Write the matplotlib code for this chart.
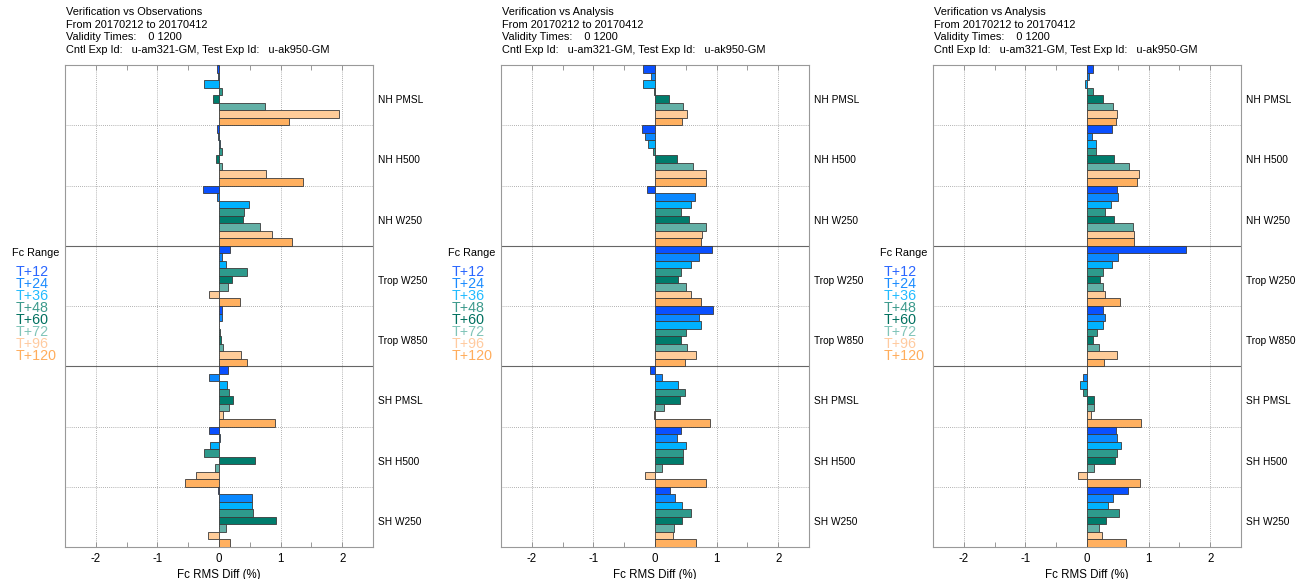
import matplotlib
matplotlib.use('Agg')
import matplotlib.pyplot as plt
from matplotlib.ticker import MultipleLocator

plt.rcParams['font.family'] = ['Liberation Sans', 'DejaVu Sans']

# ---------------- data ----------------
categories = ["NH PMSL", "NH H500", "NH W250", "Trop W250", "Trop W850",
              "SH PMSL", "SH H500", "SH W250"]
fc_ranges = ["T+12", "T+24", "T+36", "T+48", "T+60", "T+72", "T+96", "T+120"]
bar_colors = ["#0a50ff", "#0a88ff", "#00b2ff", "#2e9a8c", "#007c6c",
              "#62b0a6", "#ffcc99", "#ffb060"]
legend_colors = ["#2a66ff", "#1a8cff", "#22bbff", "#3c9a8c", "#00705f",
                 "#80c4b8", "#ffcba0", "#ffad5c"]

panel_titles = ["Verification vs Observations", "Verification vs Analysis",
                "Verification vs Analysis"]
date_line = "From 20170212 to 20170412"
validity_line = "Validity Times:    0 1200"
exp_line = "Cntl Exp Id:   u-am321-GM, Test Exp Id:   u-ak950-GM"
xlabel = "Fc RMS Diff (%)"
legend_title = "Fc Range"

# rows: categories, columns: fc ranges (T+12 ... T+120)
obs_diff = [
    [-0.03, -0.01, -0.24, 0.05, -0.10, 0.75, 1.94, 1.13],
    [-0.04, -0.01, 0.02, 0.05, -0.05, 0.05, 0.76, 1.36],
    [-0.26, -0.03, 0.48, 0.41, 0.39, 0.66, 0.86, 1.18],
    [0.18, 0.05, 0.11, 0.45, 0.21, 0.15, -0.16, 0.34],
    [0.05, 0.05, 0.005, 0.01, 0.04, 0.07, 0.36, 0.46],
    [0.14, -0.17, 0.13, 0.17, 0.23, 0.17, 0.06, 0.91],
    [-0.16, 0.015, -0.15, -0.24, 0.59, -0.06, -0.38, -0.55],
    [-0.02, 0.54, 0.54, 0.55, 0.93, 0.11, -0.18, 0.18],
]
ana_diff_a = [
    [-0.19, -0.07, -0.19, -0.01, 0.22, 0.46, 0.52, 0.44],
    [-0.21, -0.17, -0.11, -0.04, 0.35, 0.61, 0.83, 0.82],
    [-0.13, 0.65, 0.59, 0.43, 0.56, 0.82, 0.77, 0.75],
    [0.92, 0.72, 0.59, 0.43, 0.38, 0.51, 0.59, 0.74],
    [0.94, 0.72, 0.74, 0.50, 0.42, 0.52, 0.66, 0.49],
    [-0.08, 0.11, 0.37, 0.48, 0.41, 0.15, -0.01, 0.90],
    [0.43, 0.35, 0.51, 0.46, 0.45, 0.12, -0.16, 0.83],
    [0.24, 0.32, 0.44, 0.59, 0.44, 0.31, 0.30, 0.66],
]
ana_diff_b = [
    [0.10, 0.03, -0.03, 0.09, 0.26, 0.43, 0.48, 0.47],
    [0.41, 0.08, 0.14, 0.14, 0.44, 0.68, 0.84, 0.81],
    [0.49, 0.51, 0.39, 0.30, 0.44, 0.74, 0.77, 0.77],
    [1.61, 0.51, 0.41, 0.26, 0.21, 0.26, 0.30, 0.54],
    [0.26, 0.29, 0.26, 0.17, 0.10, 0.20, 0.49, 0.27],
    [0.0, -0.07, -0.11, -0.07, 0.12, 0.11, 0.07, 0.88],
    [0.47, 0.49, 0.55, 0.49, 0.46, 0.12, -0.14, 0.86],
    [0.67, 0.42, 0.34, 0.52, 0.31, 0.20, 0.24, 0.63],
]
panels_data = [obs_diff, ana_diff_a, ana_diff_b]

# ---------------- layout ----------------
W, H = 1307, 579
fig = plt.figure(figsize=(W / 100, H / 100), dpi=100)

ax_left_px = [65, 501, 933]
ax_w_px = 308
ax_top_px = 65
ax_bot_px = 547

def fx(px):
    return px / W

def fy(py):
    return 1 - py / H

ncat = len(categories)
nfc = len(fc_ranges)
fs_tick = 8.3
fs_head = 7.9
fs_cat = 7.3
fs_legt = 7.8
fs_leg = 10.3

for p in range(3):
    L = ax_left_px[p]
    ax = fig.add_axes([fx(L), fy(ax_bot_px), ax_w_px / W, (ax_bot_px - ax_top_px) / H])
    data = panels_data[p]
    for c in range(ncat):
        for k in range(nfc):
            y = c * nfc + k + 0.5
            ax.barh(y, data[c][k], height=1.0, color=bar_colors[k],
                    edgecolor='#3a3a3a', linewidth=0.6, zorder=3)
    ax.set_xlim(-2.5, 2.5)
    ax.set_ylim(ncat * nfc, 0)
    ax.set_yticks([])
    ax.xaxis.set_major_locator(MultipleLocator(1))
    ax.xaxis.set_minor_locator(MultipleLocator(0.5))
    ax.tick_params(axis='x', which='both', direction='in', top=True, bottom=True,
                   length=3.5, width=0.6, color='#888888', labelsize=fs_tick, pad=4)
    ax.set_xticks([-2, -1, 0, 1, 2])
    ax.set_xticklabels(["-2", "-1", "0", "1", "2"])
    for x in [-2, -1, 0, 1, 2]:
        ax.axvline(x, color='#999999', linestyle=(0, (1, 1.5)), linewidth=0.6, zorder=1)
    for c in range(1, ncat):
        if c in (3, 5):
            ax.axhline(c * nfc, color='#666666', linewidth=0.8, zorder=2)
        else:
            ax.axhline(c * nfc, color='#999999', linestyle=(0, (1, 1.5)),
                       linewidth=0.6, zorder=1)
    for s in ax.spines.values():
        s.set_color('#999999')
        s.set_linewidth(0.8)
    ax.set_xlabel(xlabel, fontsize=fs_tick, labelpad=3)

    # category labels on the right
    cat_h = (ax_bot_px - ax_top_px) / ncat
    for c in range(ncat):
        ypx = ax_top_px + (c + 0.5) * cat_h + 5
        fig.text(fx(L + ax_w_px + 5), fy(ypx), categories[c], fontsize=fs_cat,
                 ha='left', va='center')

    # header text
    lines = [panel_titles[p], date_line, validity_line, exp_line]
    for i, t in enumerate(lines):
        fig.text(fx(L + 1), fy(12 + i * 12.6), t, fontsize=fs_head, ha='left', va='center')

    # legend
    fig.text(fx(L - 53), fy(253), legend_title, fontsize=fs_legt, ha='left', va='center')
    for k in range(nfc):
        fig.text(fx(L - 49), fy(271.5 + k * 12.05), fc_ranges[k], fontsize=fs_leg,
                 color=legend_colors[k], ha='left', va='center')

fig.savefig('out.png', dpi=100)
